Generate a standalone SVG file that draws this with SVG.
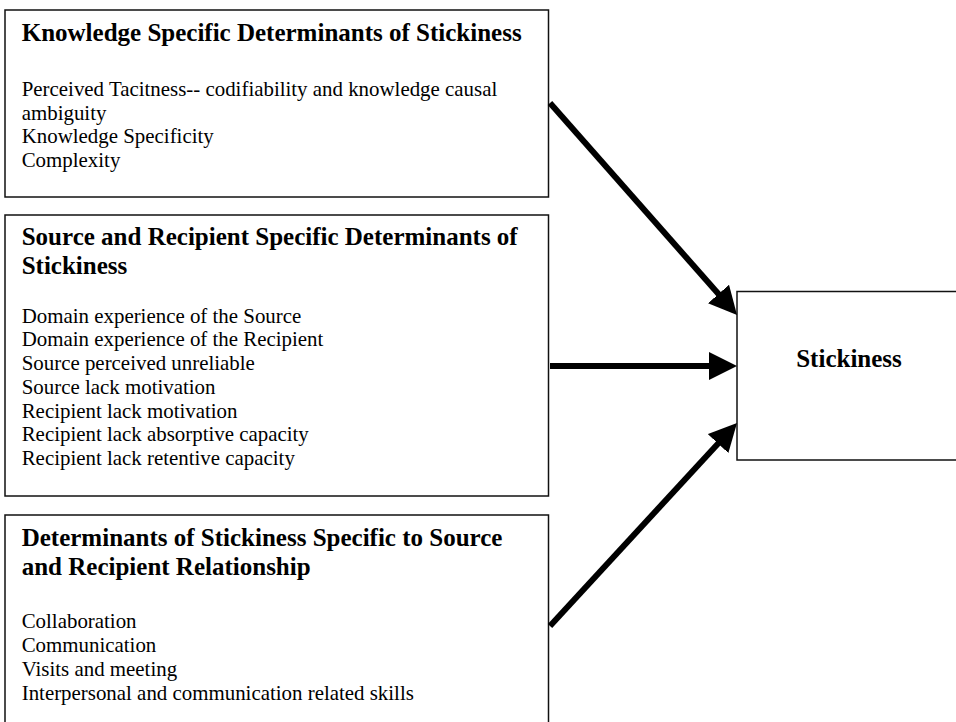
<svg xmlns="http://www.w3.org/2000/svg" width="956" height="722" viewBox="0 0 956 722">
  <style>
    .box { fill: #ffffff; stroke: #111111; stroke-width: 1.5; }
    .title { font-family: "Liberation Serif", "Times New Roman", serif; font-weight: bold; font-size: 25px; fill: #000000; }
    .body { font-family: "Liberation Serif", "Times New Roman", serif; font-size: 20.9px; fill: #000000; }
    .link { stroke: #000000; stroke-width: 6; fill: none; marker-end: url(#head); }
  </style>
  <defs>
    <marker id="head" markerUnits="userSpaceOnUse" markerWidth="28" markerHeight="28" refX="8" refY="14" orient="auto">
      <path d="M0,0 L28,14 L0,28 Z" fill="#000000"/>
    </marker>
  </defs>

  <rect width="956" height="722" fill="#ffffff"/>

  <!-- Knowledge specific determinants -->
  <g id="knowledge">
    <rect class="box" x="5" y="10" width="543.5" height="187"/>
    <text class="title" x="21.7" y="41.3">Knowledge Specific Determinants of Stickiness</text>
    <text class="body" x="21.7" y="95.7">Perceived Tacitness-- codifiability and knowledge causal</text>
    <text class="body" x="21.7" y="119.5">ambiguity</text>
    <text class="body" x="21.7" y="143.3">Knowledge Specificity</text>
    <text class="body" x="21.7" y="167.1">Complexity</text>
  </g>

  <!-- Source and recipient specific determinants -->
  <g id="source-recipient">
    <rect class="box" x="5" y="215" width="543.5" height="281"/>
    <text class="title" x="21.7" y="245">Source and Recipient Specific Determinants of</text>
    <text class="title" x="21.7" y="274">Stickiness</text>
    <text class="body" x="21.7" y="322.7">Domain experience of the Source</text>
    <text class="body" x="21.7" y="346.4">Domain experience of the Recipient</text>
    <text class="body" x="21.7" y="370.2">Source perceived unreliable</text>
    <text class="body" x="21.7" y="393.9">Source lack motivation</text>
    <text class="body" x="21.7" y="417.7">Recipient lack motivation</text>
    <text class="body" x="21.7" y="441.4">Recipient lack absorptive capacity</text>
    <text class="body" x="21.7" y="465.2">Recipient lack retentive capacity</text>
  </g>

  <!-- Relationship specific determinants -->
  <g id="relationship">
    <rect class="box" x="5" y="515" width="543.5" height="220"/>
    <text class="title" x="21.7" y="545.7">Determinants of Stickiness Specific to Source</text>
    <text class="title" x="21.7" y="575">and Recipient Relationship</text>
    <text class="body" x="21.7" y="628.3">Collaboration</text>
    <text class="body" x="21.7" y="652.3">Communication</text>
    <text class="body" x="21.7" y="676">Visits and meeting</text>
    <text class="body" x="21.7" y="699.8">Interpersonal and communication related skills</text>
  </g>

  <!-- Outcome -->
  <g id="stickiness">
    <rect class="box" x="737" y="291.5" width="230" height="168.5"/>
    <text class="title" x="849" y="366.7" text-anchor="middle">Stickiness</text>
  </g>

  <!-- Connectors -->
  <g id="connectors">
    <line class="link" x1="550" y1="103" x2="723.8" y2="300"/>
    <line class="link" x1="550" y1="366" x2="717" y2="366"/>
    <line class="link" x1="550" y1="626" x2="723.45" y2="437.7"/>
  </g>
</svg>
